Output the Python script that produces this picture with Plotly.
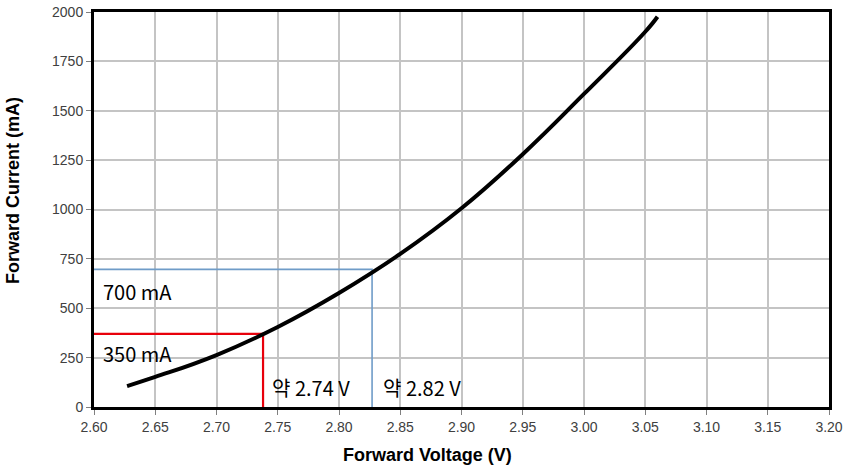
import plotly.graph_objects as go

# Curve data
voltage = [2.627, 2.65, 2.70, 2.75, 2.80, 2.85, 2.90, 2.95, 3.00, 3.05, 3.06]
current = [106, 152, 263, 405, 577, 775, 1006, 1280, 1585, 1900, 1976]

# Reference markers
ref_voltage = [2.738, 2.827]
ref_current = [370, 697]
ref_colors = ["#e8000b", "#6f9cc8"]
ref_widths = [2.2, 1.6]
current_labels = ["350 mA", "700 mA"]
current_label_y = [273, 587]
voltage_labels = ["약 2.74 V", "약 2.82 V"]
voltage_label_x = [2.744, 2.834]

x_title = "Forward Voltage (V)"
y_title = "Forward Current (mA)"

x_min, x_max = 2.60, 3.20
y_min, y_max = 0, 2000

fig = go.Figure()

for v, c, col, w in zip(ref_voltage, ref_current, ref_colors, ref_widths):
    fig.add_trace(go.Scatter(x=[x_min, v, v], y=[c, c, y_min], mode="lines",
                             line=dict(color=col, width=w), hoverinfo="skip",
                             showlegend=False))

fig.add_trace(go.Scatter(x=voltage, y=current, mode="lines",
                         line=dict(color="black", width=4, shape="spline", smoothing=1.3),
                         showlegend=False))

label_font = dict(family="Noto Sans CJK KR", size=20, color="black")
for txt, yv in zip(current_labels, current_label_y):
    fig.add_annotation(x=2.606, y=yv, text=txt, showarrow=False, xanchor="left",
                       yanchor="middle", font=label_font)
for txt, xv in zip(voltage_labels, voltage_label_x):
    fig.add_annotation(x=xv, y=100, text=txt, showarrow=False, xanchor="left",
                       yanchor="middle", font=label_font)

tick_font = dict(family="Liberation Sans, Arial", size=14, color="#404040")
title_font = dict(family="Liberation Sans, Arial", size=18, color="black")

# Axis titles (offset from plot centre as in the original)
fig.add_annotation(xref="paper", yref="paper", x=(427 - 94) / 735, y=-(455 - 407) / 395,
                   text="<b>" + x_title + "</b>", showarrow=False, xanchor="center",
                   yanchor="middle", font=title_font)
fig.add_annotation(xref="paper", yref="paper", x=-(94 - 13) / 735, y=(407 - 191) / 395,
                   text="<b>" + y_title + "</b>", showarrow=False, xanchor="center",
                   yanchor="middle", textangle=-90, font=title_font)

fig.update_xaxes(range=[x_min, x_max], tick0=2.60, dtick=0.05, tickformat=".2f",
                 showgrid=True, gridcolor="#c4c4c4", gridwidth=1.5,
                 showline=True, linecolor="black", linewidth=3, mirror=True,
                 ticks="outside", ticklen=5, tickcolor="#808080", tickwidth=1,
                 tickfont=tick_font, zeroline=False, automargin=False)
fig.update_yaxes(range=[y_min, y_max], tick0=0, dtick=250,
                 showgrid=True, gridcolor="#c4c4c4", gridwidth=1.5,
                 showline=True, linecolor="black", linewidth=3, mirror=True,
                 ticks="outside", ticklen=5, tickcolor="#808080", tickwidth=1,
                 tickfont=tick_font, zeroline=False, automargin=False)

fig.update_layout(width=846, height=465, margin=dict(l=94, r=17, t=12, b=58),
                  plot_bgcolor="white", paper_bgcolor="white")

fig.write_html("out.html")
